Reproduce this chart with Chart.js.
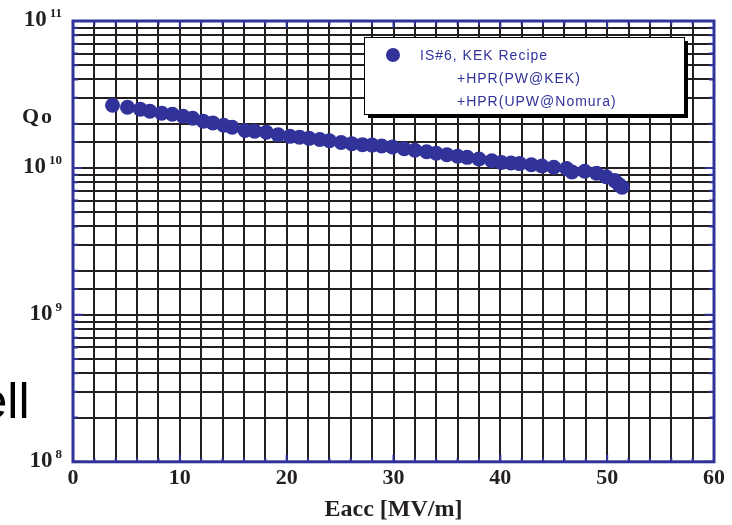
<!DOCTYPE html>
<html>
<head>
<meta charset="utf-8">
<script src="https://cdn.jsdelivr.net/npm/chart.js@4"></script>
<style>
  html, body { margin: 0; padding: 0; background: #fff; }
</style>
</head>
<body>
<canvas id="qo_chart" width="732" height="525"></canvas>
<script>
// CHART DATA
const eacc = [3.7, 5.1, 6.3, 7.2, 8.3, 9.3, 10.3, 11.2, 12.2, 13.1, 14.1, 14.9,
  16.1, 17.0, 18.1, 19.2, 20.3, 21.2, 22.1, 23.1, 24.0, 25.1, 26.1, 27.1, 28.0,
  28.9, 29.9, 31.0, 32.0, 33.1, 34.0, 35.0, 36.0, 36.9, 38.0, 39.2, 40.1, 41.0,
  41.8, 42.9, 43.9, 45.0, 46.2, 46.7, 47.9, 49.0, 49.9, 50.7, 51.1, 51.4];
const qo = [2.67e10, 2.59e10, 2.51e10, 2.43e10, 2.36e10, 2.32e10, 2.25e10, 2.18e10, 2.08e10, 2.02e10, 1.95e10, 1.89e10,
  1.80e10, 1.78e10, 1.75e10, 1.68e10, 1.64e10, 1.62e10, 1.59e10, 1.56e10, 1.53e10, 1.49e10, 1.46e10, 1.44e10, 1.43e10,
  1.41e10, 1.39e10, 1.35e10, 1.32e10, 1.29e10, 1.26e10, 1.23e10, 1.20e10, 1.18e10, 1.15e10, 1.12e10, 1.09e10, 1.08e10,
  1.07e10, 1.05e10, 1.03e10, 1.01e10, 9.9e9, 9.4e9, 9.5e9, 9.2e9, 8.7e9, 8.2e9, 7.7e9, 7.4e9];

const xRange = [0, 60];
const xLabelEvery = 10;
const yRange = [1e8, 1e11];
const legendLines = ['IS#6, KEK Recipe', '+HPR(PW@KEK)', '+HPR(UPW@Nomura)'];
const yTitle = 'Qo';
const xTitle = 'Eacc [MV/m]';
const slideText = 'Cell';

// COLORS / FONTS
const BLUE = '#31339a';
const INK = '#231f20';
const SERIF = '"Liberation Serif", "Times New Roman", serif';
const SANS = '"Liberation Sans", Arial, sans-serif';

const isDecade = v => Math.abs(Math.log10(v) - Math.round(Math.log10(v))) < 1e-9;

// frame, inner ticks, superscript labels and the boxed legend
const frame_plugin = {
  id: 'frame',
  beforeDatasetsDraw(chart) {
    const ctx = chart.ctx;
    const a = chart.chartArea;
    const xs = chart.scales.x, ys = chart.scales.y;
    ctx.save();
    ctx.strokeStyle = BLUE;
    ctx.lineWidth = 2;
    ys.ticks.forEach(t => {
      const y = ys.getPixelForValue(t.value);
      const len = isDecade(t.value) ? 9 : 5;
      ctx.beginPath();
      ctx.moveTo(a.left, y); ctx.lineTo(a.left + len, y);
      ctx.moveTo(a.right, y); ctx.lineTo(a.right - len, y);
      ctx.stroke();
    });
    xs.ticks.forEach(t => {
      const x = xs.getPixelForValue(t.value);
      const len = t.value % xLabelEvery === 0 ? 7 : 4;
      ctx.beginPath();
      ctx.moveTo(x, a.top); ctx.lineTo(x, a.top + len);
      ctx.moveTo(x, a.bottom); ctx.lineTo(x, a.bottom - len);
      ctx.stroke();
    });
    ctx.lineWidth = 3;
    ctx.strokeRect(a.left, a.top, a.right - a.left, a.bottom - a.top);
    ctx.restore();
  },
  afterDraw(chart) {
    const ctx = chart.ctx;
    const ys = chart.scales.y;
    ctx.save();

    // y tick labels as 10 with exponent
    ctx.fillStyle = INK;
    ys.ticks.filter(t => isDecade(t.value)).forEach(t => {
      const y = ys.getPixelForValue(t.value);
      const ex = String(Math.round(Math.log10(t.value)));
      ctx.font = 'bold 13px ' + SERIF;
      ctx.textAlign = 'right';
      ctx.textBaseline = 'alphabetic';
      const exW = ctx.measureText(ex).width;
      ctx.fillText(ex, 62, y - 4);
      ctx.font = 'bold 23px ' + SERIF;
      ctx.textBaseline = 'middle';
      ctx.fillText('10', 62 - exW - 3, y - 1);
    });

    // y title
    ctx.font = 'bold 22px ' + SERIF;
    ctx.textAlign = 'center';
    ctx.textBaseline = 'middle';
    ctx.letterSpacing = '2px';
    ctx.fillText(yTitle, 38, 117);
    ctx.letterSpacing = '0px';

    // text of the slide behind, cut at the left edge
    ctx.font = '50px ' + SANS;
    ctx.textAlign = 'right';
    ctx.textBaseline = 'alphabetic';
    ctx.fillStyle = '#000';
    ctx.fillText(slideText, 29.5, 418);

    // legend box with shadow
    const bx = 364, by = 37, bw = 320, bh = 77;
    ctx.fillStyle = '#000';
    ctx.fillRect(bx + 4, by + 4, bw, bh);
    ctx.fillStyle = '#fff';
    ctx.fillRect(bx, by, bw, bh);
    ctx.strokeStyle = '#000';
    ctx.lineWidth = 1;
    ctx.strokeRect(bx + 0.5, by + 0.5, bw, bh);

    ctx.fillStyle = BLUE;
    ctx.beginPath();
    ctx.arc(393, 55, 7, 0, Math.PI * 2);
    ctx.fill();

    ctx.font = '14px ' + SANS;
    ctx.textAlign = 'left';
    ctx.textBaseline = 'middle';
    ctx.letterSpacing = '1px';
    legendLines.forEach((line, i) => {
      ctx.fillText(line, i === 0 ? 420 : 457, 56 + i * 23);
    });
    ctx.restore();
  }
};

const ctx = document.getElementById('qo_chart').getContext('2d');

const my_chart = new Chart(ctx, {
  type: 'scatter',
  data: {
    datasets: [{
      label: legendLines.join(' '),
      data: eacc.map((e, i) => ({ x: e, y: qo[i] })),
      backgroundColor: BLUE,
      borderColor: BLUE,
      borderWidth: 0,
      pointRadius: 7.5,
      showLine: false
    }]
  },
  options: {
    responsive: false,
    animation: false,
    events: [],
    layout: { padding: { top: 21, right: 18, left: 0, bottom: 1 } },
    plugins: {
      legend: { display: false },
      tooltip: { enabled: false }
    },
    scales: {
      x: {
        type: 'linear',
        min: xRange[0],
        max: xRange[1],
        border: { display: false },
        grid: { color: INK, lineWidth: 2, drawTicks: false },
        ticks: {
          stepSize: 2,
          autoSkip: false,
          maxRotation: 0,
          padding: 3,
          color: INK,
          font: { family: SERIF, size: 22, weight: 'bold' },
          callback: v => (v % xLabelEvery === 0 ? v : '')
        },
        title: {
          display: true,
          text: xTitle,
          color: INK,
          padding: { top: 1, bottom: 0 },
          font: { family: SERIF, size: 24, weight: 'bold' }
        }
      },
      y: {
        type: 'logarithmic',
        min: yRange[0],
        max: yRange[1],
        border: { display: false },
        grid: { color: INK, lineWidth: 2, drawTicks: false },
        ticks: { display: false, autoSkip: false },
        afterFit: s => { s.width = 73; }
      }
    }
  },
  plugins: [frame_plugin]
});
</script>
</body>
</html>
